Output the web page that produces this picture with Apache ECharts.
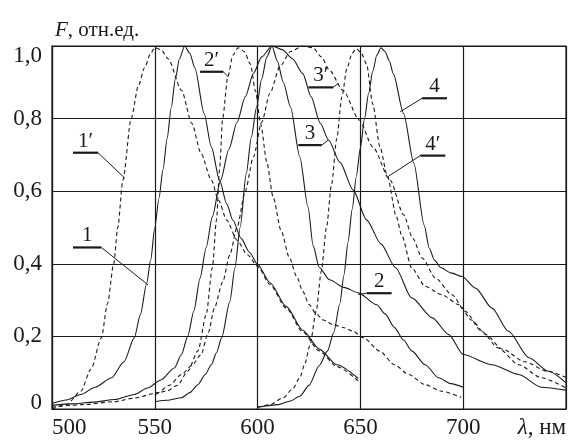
<!DOCTYPE html>
<html><head><meta charset="utf-8">
<script src="https://cdn.jsdelivr.net/npm/echarts@6/dist/echarts.min.js"></script>
<style>html,body{margin:0;padding:0;background:#fff}#c{width:571px;height:444px}</style>
</head><body><div id="c"></div>
<script>
// x: wavelength, nm; y: relative units
const xTicks = [500, 550, 600, 650, 700, 750];
const yTicks = [0, 0.2, 0.4, 0.6, 0.8, 1.0];

const curve1 = [[500,0.015],[507,0.025],[514,0.04],[521,0.06],[529,0.086],[535,0.13],[540,0.196],[543,0.26],[546,0.345],[548,0.41],[550,0.5],[552,0.58],[554,0.66],[556,0.745],[558,0.83],[560,0.91],[562,0.965],[564.5,1.0],[567,0.98],[569.5,0.94],[574,0.814],[577.5,0.722],[581.5,0.63],[585,0.565],[588,0.52],[592,0.47],[596,0.432],[600,0.398],[606,0.348],[614,0.282],[622,0.217],[630,0.165],[638.5,0.122],[649,0.084]];
const curve1p = [[500,0.0],[507,0.012],[514,0.049],[519,0.11],[524,0.196],[527,0.29],[530,0.40],[532,0.5],[534.5,0.631],[538.5,0.8],[542,0.89],[545,0.94],[548,0.98],[550,0.995],[553,0.99],[556.5,0.965],[563,0.878],[568,0.787],[572.5,0.704],[577.5,0.631],[581,0.575],[585,0.52],[590,0.465],[595,0.425],[600,0.393],[606,0.343],[614,0.277],[622,0.212],[630,0.16],[638.5,0.117],[649,0.077]];
const curve2 = [[550,0.02],[556,0.024],[563,0.031],[567,0.045],[571,0.067],[574.5,0.095],[577.5,0.122],[580,0.155],[582.5,0.196],[586.5,0.296],[589,0.39],[591.5,0.50],[594.5,0.649],[597,0.75],[599.5,0.832],[602,0.91],[604.5,0.97],[607,1.0],[609.5,0.96],[612.5,0.90],[616,0.832],[620.5,0.695],[624.5,0.557],[627,0.45],[630,0.39],[635,0.356],[642,0.335],[649,0.32],[658,0.287],[662,0.262],[666.5,0.225],[671,0.19],[675,0.16],[681.5,0.122],[688,0.086],[694,0.07],[700,0.06]];
const curve2p = [[550,0.04],[556,0.05],[561,0.065],[566,0.104],[571,0.16],[575,0.26],[578,0.39],[580,0.52],[581.5,0.66],[583,0.8],[585.5,0.915],[588,0.975],[590.5,0.995],[593.5,0.985],[596.5,0.95],[599,0.875],[601.5,0.785],[604.5,0.68],[607.5,0.585],[611.5,0.49],[615.5,0.416],[619,0.365],[622,0.324],[625,0.288],[628.5,0.262],[632,0.245],[637,0.232],[642,0.224],[646.5,0.214],[651.5,0.196],[659.5,0.159],[666.5,0.122],[673.5,0.095],[681.5,0.067],[689.5,0.049],[699,0.032]];
const curve3 = [[500,0.01],[510,0.014],[520,0.019],[530.5,0.026],[540,0.04],[546.5,0.058],[553,0.08],[559.5,0.113],[563,0.15],[566,0.2],[569,0.27],[572,0.36],[575,0.445],[578,0.53],[582,0.63],[586,0.715],[590,0.79],[594,0.86],[598,0.925],[602,0.97],[607,1.0],[612,0.99],[617,0.965],[622,0.924],[626,0.86],[630.5,0.787],[634.5,0.741],[640,0.68],[646.5,0.603],[653,0.521],[660,0.455],[667,0.39],[675,0.306],[685,0.251],[693,0.205],[700,0.15],[714,0.122],[727,0.095],[738,0.06],[750,0.052]];
const curve3p = [[500,0.005],[515,0.012],[530,0.02],[540,0.03],[551.5,0.045],[557,0.065],[563,0.095],[568,0.12],[572.5,0.15],[576,0.21],[579,0.278],[583,0.35],[586.5,0.425],[590,0.5],[594,0.6],[598,0.695],[602,0.79],[606,0.87],[611,0.945],[616,0.985],[622,1.0],[627,0.995],[631,0.97],[635,0.933],[641.5,0.878],[649.5,0.796],[656,0.722],[664.5,0.63],[671,0.535],[675.5,0.47],[680,0.416],[686.5,0.361],[694.5,0.315],[701,0.269],[709,0.214],[717,0.168],[727,0.122],[738,0.086],[750,0.058]];
const curve4 = [[600,0.005],[610,0.012],[616,0.022],[620.5,0.035],[625,0.065],[630,0.12],[634,0.16],[637,0.21],[640,0.29],[642,0.37],[644,0.46],[646,0.55],[648,0.64],[650,0.72],[652,0.8],[654,0.87],[656,0.93],[658,0.975],[660,0.995],[662,0.985],[664,0.96],[666,0.924],[671,0.814],[676,0.677],[681,0.507],[683.5,0.443],[686,0.41],[689,0.39],[694,0.375],[699.5,0.365],[706,0.333],[714,0.278],[722,0.214],[732,0.141],[741.5,0.104],[750,0.072]];
const curve4p = [[600,0.005],[606,0.012],[612.5,0.031],[617,0.055],[620.5,0.086],[623,0.125],[625.5,0.177],[628.5,0.27],[631,0.38],[633.5,0.5],[636,0.62],[638.5,0.745],[641,0.86],[643.5,0.94],[646,0.98],[648,0.993],[650.5,0.98],[653,0.95],[656,0.84],[659.5,0.722],[663,0.645],[667.5,0.53],[670,0.48],[675,0.388],[681.5,0.338],[689.5,0.315],[698,0.287],[704,0.245],[711,0.205],[719,0.165],[730,0.13],[741,0.104],[750,0.087]];

const curveNames = ['1', '1′', '2', '2′', '3', '3′', '4', '4′'];
const curveData = [curve1, curve1p, curve2, curve2p, curve3, curve3p, curve4, curve4p];
const curveDashed = [false, true, false, true, false, true, false, true];

// curve labels: text, underline span (x from..to, y), leader end point, in data units
const labelTexts = ['1′', '1', '2′', '2', '3′', '3', '4', '4′'];
const labelUnderX = [[510.2,522.4],[510.2,524],[572,583.3],[653.1,665.2],[624.7,636.8],[619.8,631.2],[680,692.1],[679.1,691.3]];
const labelUnderY = [0.706, 0.445, 0.929, 0.319, 0.886, 0.727, 0.856, 0.698];
const labelLeaderFrom = ['end','end','end','start','end','end','start','start'];
const labelLeaderTo = [[535.4,0.636],[546.7,0.342],[585.8,0.915],[649,0.315],[639.3,0.897],[634.4,0.741],[669.4,0.819],[663.9,0.642]];

const FONT = '"Liberation Serif","DejaVu Serif",serif';
const INK = '#1a1a1a';
const FS = 23;

const chart = echarts.init(document.getElementById('c'), null, {renderer: 'canvas'});

const series = curveData.map((d, i) => ({
  name: curveNames[i],
  type: 'line',
  data: d,
  symbol: 'none',
  smooth: 0.25,
  smoothMonotone: 'x',
  lineStyle: {color: INK, width: 1.1, type: curveDashed[i] ? [4, 3] : 'solid'},
  silent: true,
  z: 3
}));

const yMax = yTicks[yTicks.length - 1];
chart.setOption({
  animation: false,
  backgroundColor: '#fff',
  title: {
    text: '{i|F}, отн.ед.',
    left: 50, top: 15,
    textStyle: {fontFamily: FONT, fontSize: 21, fontWeight: 'normal', color: INK,
      rich: {i: {fontFamily: FONT, fontSize: 21, fontStyle: 'italic', color: INK}}}
  },
  grid: {left: 52, right: 5, top: 46, bottom: 35, show: true, borderColor: INK, borderWidth: 1.2, backgroundColor: 'transparent'},
  xAxis: {
    type: 'value', min: xTicks[0], max: xTicks[xTicks.length - 1], interval: 50,
    axisLine: {show: true, lineStyle: {color: INK, width: 1.2}},
    axisTick: {show: false},
    splitLine: {show: true, lineStyle: {color: INK, width: 1.2}},
    axisLabel: {
      color: INK, fontFamily: FONT, fontSize: FS, margin: 7,
      alignMinLabel: 'left', alignMaxLabel: 'right',
      formatter: v => v === xTicks[xTicks.length - 1] ? '{i|λ}, нм' : String(v),
      rich: {i: {fontFamily: FONT, fontSize: FS, fontStyle: 'italic', color: INK}}
    }
  },
  yAxis: {
    type: 'value', min: yTicks[0], max: yMax, interval: 0.2,
    axisLine: {show: true, lineStyle: {color: INK, width: 1.2}},
    axisTick: {show: false},
    splitLine: {show: true, lineStyle: {color: INK, width: 1.2}},
    axisLabel: {
      color: INK, fontFamily: FONT, fontSize: FS, margin: 10,
      formatter: v => {
        if (v === 0) return '{z|0}';
        const s = v.toFixed(1).replace('.', ',');
        return Math.abs(v - yMax) < 1e-9 ? '{t|' + s + '}' : '{n|' + s + '}';
      },
      rich: {
        n: {fontFamily: FONT, fontSize: FS, color: INK},
        t: {fontFamily: FONT, fontSize: FS, color: INK, padding: [20, 0, 0, 0]},
        z: {fontFamily: FONT, fontSize: FS, color: INK, padding: [0, 0, 12, 0]}
      }
    }
  },
  series: series
});

function px(p) { return chart.convertToPixel({gridIndex: 0}, p); }
const graphics = [];
labelTexts.forEach((name, i) => {
  const a = px([labelUnderX[i][0], labelUnderY[i]]);
  const b = px([labelUnderX[i][1], labelUnderY[i]]);
  const from = labelLeaderFrom[i] === 'end' ? b : a;
  const to = px(labelLeaderTo[i]);
  graphics.push({type: 'line', shape: {x1: a[0], y1: a[1], x2: b[0], y2: b[1]}, style: {stroke: INK, lineWidth: 2.2}, z: 10});
  graphics.push({type: 'line', shape: {x1: from[0], y1: from[1], x2: to[0], y2: to[1]}, style: {stroke: INK, lineWidth: 1}, z: 10});
  graphics.push({type: 'text', x: (a[0] + b[0]) / 2, y: a[1] - 1,
    style: {text: name, fontFamily: FONT, fontSize: 21, fill: INK, align: 'center', verticalAlign: 'bottom'}, z: 10});
});
chart.setOption({graphic: graphics});
</script>
</body></html>
